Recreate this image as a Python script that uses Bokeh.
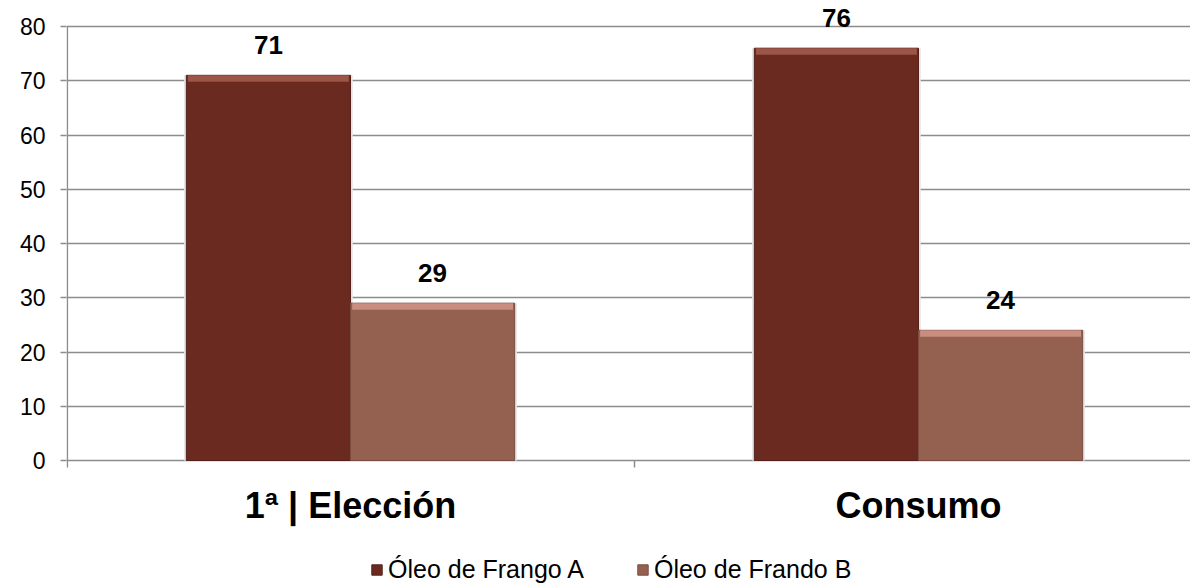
from bokeh.plotting import figure
from bokeh.models import Range1d, FixedTicker, Legend, LegendItem, ColumnDataSource
from bokeh.core.properties import value
from bokeh.transform import dodge
from bokeh.embed import file_html
from bokeh.resources import INLINE

categories = ["1ª | Elección", "Consumo"]
series_names = ["Óleo de Frango A", "Óleo de Frando B"]
series_a = [71, 76]
series_b = [29, 24]
y_ticks = [0, 10, 20, 30, 40, 50, 60, 70, 80]

col_a = "#6B2A1F"
col_a_hi = "#9C5547"
col_b = "#94604F"
col_b_hi = "#C98E80"
grid_col = "#8C8C8C"
font = "Liberation Sans"

x_pos = [i + 0.5 for i in range(len(categories))]
src = ColumnDataSource(dict(
    x=x_pos, a=series_a, b=series_b,
    a_lbl=[str(v) for v in series_a], b_lbl=[str(v) for v in series_b],
    a_hi=[v - 1.2 for v in series_a], b_hi=[v - 1.2 for v in series_b],
))
cat_src = ColumnDataSource(dict(x=x_pos, y=[0] * len(categories), t=categories))

px_per_unit = 434 / 80
y_lo = -(586 - 460) / px_per_unit
y_hi = (460 - 2) / px_per_unit

p = figure(frame_width=1124, frame_height=584, output_backend="svg", toolbar_location=None,
           x_range=Range1d(0, 1124 / 568), y_range=Range1d(y_lo, y_hi),
           x_axis_location=None,
           min_border_left=66, min_border_right=0, min_border_top=2, min_border_bottom=0)
p.outline_line_color = None
p.background_fill_color = "white"
p.border_fill_color = "white"

# grid
p.xgrid.visible = False
p.ygrid.ticker = FixedTicker(ticks=y_ticks)
p.ygrid.grid_line_color = grid_col
p.ygrid.grid_line_width = 1.5

# y axis
p.yaxis.ticker = FixedTicker(ticks=y_ticks)
p.yaxis.axis_line_color = None
p.yaxis.major_tick_line_color = grid_col
p.yaxis.major_tick_line_width = 1.5
p.yaxis.major_tick_out = 6
p.yaxis.major_tick_in = 0
p.yaxis.minor_tick_line_color = None
p.yaxis.major_label_text_font = font
p.yaxis.major_label_text_font_size = "23px"
p.yaxis.major_label_text_color = "black"
p.yaxis.major_label_standoff = 15

# axis lines
x0 = 0.0015
tick_len = 7 / px_per_unit
p.segment(x0=[x0], y0=[-tick_len], x1=[x0], y1=[80], line_color=grid_col, line_width=1.5)
bounds = list(range(1, len(categories)))
p.segment(x0=bounds, y0=[0] * len(bounds), x1=bounds, y1=[-tick_len] * len(bounds),
          line_color=grid_col, line_width=1.5)

# category labels
p.text(x="x", y="y", text="t", source=cat_src, text_align="center", text_baseline="middle",
       y_offset=45, text_font=value(font), text_font_style="bold", text_font_size="36px",
       text_color="black")

w = 0.289
off = w / 2
# shadows
p.vbar(x=dodge("x", -off, range=p.x_range), top="a", width=w + 0.008, bottom=0, source=src,
       fill_color="#E6E6E6", line_color=None)
p.vbar(x=dodge("x", off, range=p.x_range), top="b", width=w + 0.008, bottom=0, source=src,
       fill_color="#E6E6E6", line_color=None)
ra = p.vbar(x=dodge("x", -off, range=p.x_range), top="a", width=w, bottom=0, source=src,
            fill_color=col_a, line_color="#55201A", line_width=1)
rb = p.vbar(x=dodge("x", off, range=p.x_range), top="b", width=w, bottom=0, source=src,
            fill_color=col_b, line_color="#7A4C40", line_width=1)
# bevel highlights
p.vbar(x=dodge("x", -off, range=p.x_range), top="a", bottom="a_hi", width=w * 0.98, source=src,
       fill_color=col_a_hi, line_color=None)
p.vbar(x=dodge("x", off, range=p.x_range), top="b", bottom="b_hi", width=w * 0.98, source=src,
       fill_color=col_b_hi, line_color=None)

# value labels
for col, lbl, dx in (("a", "a_lbl", -off), ("b", "b_lbl", off)):
    p.text(x=dodge("x", dx, range=p.x_range), y=col, text=lbl, source=src,
           text_align="center", text_baseline="bottom", y_offset=-21,
           text_font=value(font), text_font_style="bold", text_font_size="26px",
           text_color="black")

legend = Legend(items=[LegendItem(label=series_names[0], renderers=[ra]),
                       LegendItem(label=series_names[1], renderers=[rb])],
                orientation="horizontal", location=(304, 2),
                label_text_font=font, label_text_font_size="25px",
                label_text_color="black", label_height=22,
                glyph_width=13, glyph_height=13, spacing=52,
                border_line_color=None, background_fill_alpha=0,
                padding=2, margin=0, label_standoff=5)
p.add_layout(legend, "center")

open("out.html", "w").write(file_html(p, INLINE))
